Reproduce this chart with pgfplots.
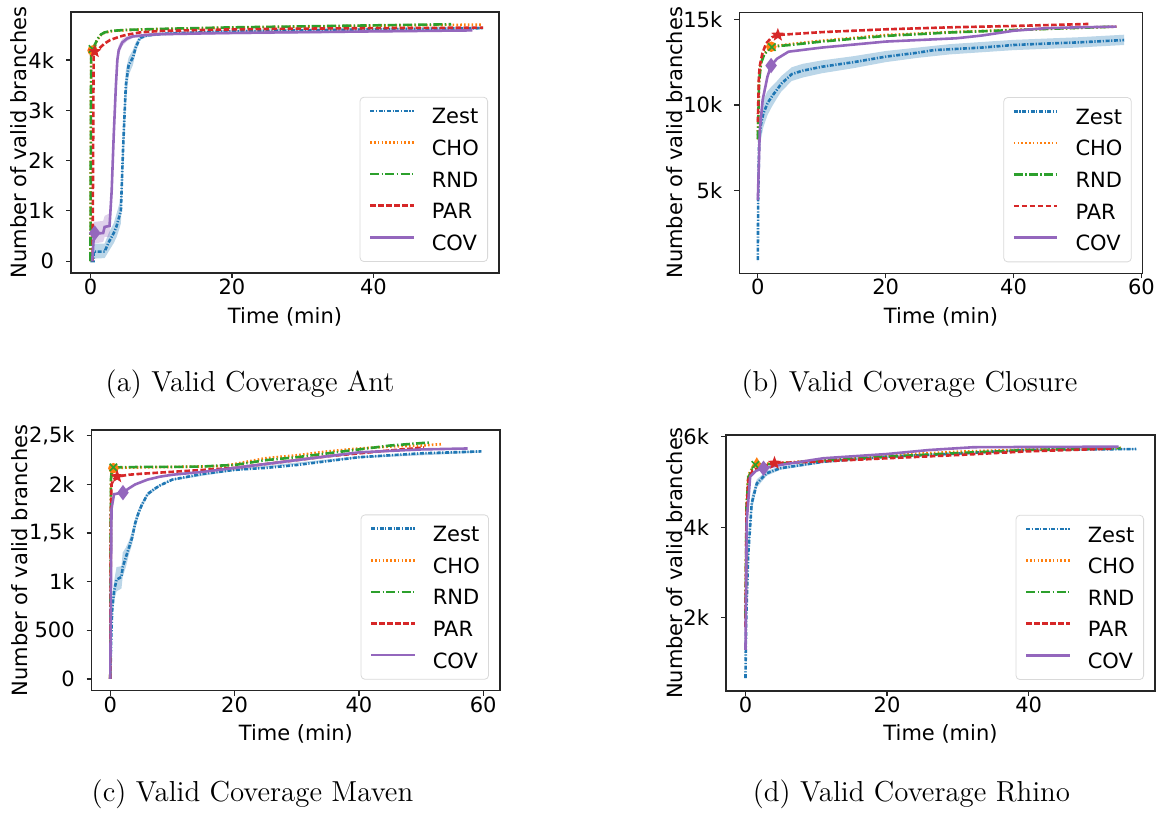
\documentclass[border=0pt]{standalone}
\usepackage{fontspec}
\usepackage{pgfplots}
\pgfplotsset{compat=1.18}
\usepgfplotslibrary{fillbetween}
\newfontfamily\djv{DejaVu Sans}
\newcommand\tfont{\djv\fontsize{10.5bp}{12bp}\selectfont}

\definecolor{tblue}{HTML}{1F77B4}
\definecolor{torange}{HTML}{FF7F0E}
\definecolor{tgreen}{HTML}{2CA02C}
\definecolor{tred}{HTML}{D62728}
\definecolor{tpurple}{HTML}{9467BD}

% filled five-point star
\pgfdeclareplotmark{fstar}{%
  \pgfpathmoveto{\pgfpointpolar{90}{\pgfplotmarksize}}%
  \pgfpathlineto{\pgfpointpolar{126}{0.42\pgfplotmarksize}}%
  \pgfpathlineto{\pgfpointpolar{162}{\pgfplotmarksize}}%
  \pgfpathlineto{\pgfpointpolar{198}{0.42\pgfplotmarksize}}%
  \pgfpathlineto{\pgfpointpolar{234}{\pgfplotmarksize}}%
  \pgfpathlineto{\pgfpointpolar{270}{0.42\pgfplotmarksize}}%
  \pgfpathlineto{\pgfpointpolar{306}{\pgfplotmarksize}}%
  \pgfpathlineto{\pgfpointpolar{342}{0.42\pgfplotmarksize}}%
  \pgfpathlineto{\pgfpointpolar{18}{\pgfplotmarksize}}%
  \pgfpathlineto{\pgfpointpolar{54}{0.42\pgfplotmarksize}}%
  \pgfpathclose\pgfusepathqfillstroke}

\pgfplotsset{
  panel/.style={
    scale only axis, anchor=south west,
    axis line style={black!85, line width=0.6bp},
    tick style={black!85, line width=0.6bp},
    tick align=outside, major tick length=2.5bp,
    xtick pos=left, ytick pos=left,
    scaled y ticks=false, scaled x ticks=false,
    every tick label/.append style={font=\tfont},
    xticklabel style={yshift=3bp},
    yticklabel style={xshift=-2.5bp},
    label style={font=\tfont},
    xlabel={Time (min)}, ylabel={Number of valid branches},
    xlabel style={anchor=base},
    ylabel style={anchor=center},
    legend style={at={(1,0)}, anchor=south east, xshift=-5.5bp, yshift=5.5bp,
      draw=black!15, rounded corners=2bp, fill=white, font=\tfont,
      inner xsep=4.4bp, inner ysep=5.6bp, row sep=8bp,
      nodes={inner sep=0pt, text height=7.8bp, text depth=0bp},
      /tikz/every odd column/.append style={column sep=8.5bp}},
    legend cell align=left,
    legend image code/.code={\draw[##1] (0bp,2.6bp) -- (21.7bp,2.6bp);},
  },
  zest/.style={tblue, line width=1.3bp, dash pattern=on 2bp off 0.8bp on 0.6bp off 0.8bp},
  cho/.style={torange, line width=1.3bp, dash pattern=on 0.8bp off 1.1bp},
  rnd/.style={tgreen, line width=1.3bp, dash pattern=on 4.5bp off 1.2bp on 0.7bp off 1.2bp},
  par/.style={tred, line width=1.3bp, dash pattern=on 2.8bp off 1.2bp},
  cov/.style={tpurple, line width=1.3bp},
  mk/.style={only marks, forget plot, mark options={solid, line width=0.8bp}},
}

\begin{document}
\begin{tikzpicture}

% ---------------- (a) Ant
\begin{axis}[panel, at={(35.5bp,273.5bp)}, width=214bp, height=130.5bp,
  xmin=-2.75, xmax=57.75, ymin=-236, ymax=4956,
  xtick={0,20,40}, xticklabels={0,20,40},
  ytick={0,1000,2000,3000,4000}, yticklabels={0,1k,2k,3k,4k},
  xlabel style={at={(axis description cs:0.5,-0.1916)}},
  ylabel style={at={(axis description cs:-0.1215,0.5)}}]
\addplot[name path=aZu, draw=none, forget plot] coordinates {(0,0) (0.45,0) (0.45,350) (2.0,350) (2.6,560) (3.3,760) (3.7,950) (4.1,1150) (4.3,1250) (4.6,2700) (5.0,3800) (5.4,4050) (6.0,4200) (6.4,4350) (7,4480) (8,4520) (10,4550) (20,4600) (40,4640) (55.5,4665)};
\addplot[name path=aZl, draw=none, forget plot] coordinates {(0,0) (0.45,0) (0.5,50) (2.0,60) (2.6,200) (3.3,360) (3.7,480) (4.1,650) (4.3,750) (4.6,1700) (5.0,3100) (5.4,3700) (6.0,3900) (6.4,4150) (7,4400) (8,4460) (10,4490) (20,4540) (40,4590) (55.5,4605)};
\addplot[tblue, fill opacity=0.3, draw=none, forget plot] fill between[of=aZu and aZl];
\addplot[name path=aCu, draw=none, forget plot] coordinates {(0.25,0) (0.5,780) (1.8,800) (2.0,900) (2.7,950) (3.0,1700) (3.3,2800) (3.6,3700) (3.8,4150) (4.0,4300) (4.5,4420) (5.2,4480) (6,4500) (10,4540) (54,4610)};
\addplot[name path=aCl, draw=none, forget plot] coordinates {(0.25,0) (0.5,350) (1.8,380) (2.0,480) (2.7,480) (3.0,1100) (3.3,2300) (3.6,3300) (3.8,3850) (4.0,4100) (4.5,4280) (5.2,4380) (6,4440) (10,4490) (54,4570)};
\addplot[tpurple, fill opacity=0.3, draw=none, forget plot] fill between[of=aCu and aCl];
\addplot[zest] coordinates {(0,0) (0.45,0) (0.45,190) (2.0,190) (2.6,380) (3.3,560) (3.7,700) (4.1,900) (4.3,1000) (4.6,2200) (5.0,3500) (5.4,3900) (6.0,4050) (6.4,4250) (7.0,4440) (8,4490) (10,4520) (15,4550) (20,4570) (30,4590) (40,4610) (50,4625) (55.5,4635)};
\addplot[cho] coordinates {(0,0) (0.1,4150) (0.3,4190) (0.6,4290) (1,4410) (1.5,4500) (2,4545) (3,4575) (5,4595) (10,4615) (20,4645) (30,4665) (40,4685) (55.3,4705)};
\addplot[rnd] coordinates {(0,0) (0.1,4150) (0.3,4200) (0.6,4300) (1,4420) (1.5,4510) (2,4550) (3,4580) (5,4600) (10,4620) (20,4650) (30,4670) (40,4690) (51,4712)};
\addplot[par] coordinates {(0.3,0) (0.45,4150) (1,4200) (2,4330) (2.8,4400) (4,4460) (5,4500) (7,4550) (10,4580) (20,4610) (30,4625) (40,4635) (55.5,4645)};
\addplot[cov] coordinates {(0.25,0) (0.5,540) (1.8,560) (2.0,680) (2.7,700) (3.0,1400) (3.3,2540) (3.6,3500) (3.8,4000) (4.0,4200) (4.5,4350) (5.2,4430) (6,4470) (8,4500) (10,4515) (20,4540) (30,4555) (40,4570) (54,4590)};
\addplot[mk, torange, mark=*, mark size=2.2bp] coordinates {(0.3,4190)};
\addplot[mk, tgreen, mark=x, mark size=2.6bp] coordinates {(0.3,4220)};
\addplot[mk, tred, mark=fstar, mark size=2.4bp] coordinates {(0.6,4170)};
\addplot[mk, tpurple, mark=diamond*, mark size=3.2bp] coordinates {(0.6,560)};
\legend{Zest,CHO,RND,PAR,COV}
\end{axis}

% ---------------- (b) Closure
\begin{axis}[panel, at={(369.65bp,273.35bp)}, width=201.7bp, height=130.5bp,
  xmin=-2.9, xmax=60.2, ymin=181, ymax=15408,
  xtick={0,20,40,60}, xticklabels={0,20,40,60},
  ytick={5000,10000,15000}, yticklabels={5k,10k,15k},
  xlabel style={at={(axis description cs:0.5,-0.1916)}},
  ylabel style={at={(axis description cs:-0.1611,0.5)}}]
\addplot[name path=bZu, draw=none, forget plot] coordinates {(0,1100) (0.05,5200) (0.2,8900) (0.5,9800) (0.86,10300) (1.5,10800) (2.2,11100) (3,11400) (3.7,11700) (5.3,12200) (7,12400) (10,12600) (15,12850) (20,13150) (25,13350) (30,13550) (40,13800) (50,13950) (57.3,14100)};
\addplot[name path=bZl, draw=none, forget plot] coordinates {(0,800) (0.05,3600) (0.2,7000) (0.5,8000) (0.86,8700) (1.5,9400) (2.2,9900) (3,10400) (3.7,10800) (5.3,11400) (7,11600) (10,11850) (15,12150) (20,12500) (25,12750) (30,12950) (40,13200) (50,13350) (57.3,13500)};
\addplot[tblue, fill opacity=0.3, draw=none, forget plot] fill between[of=bZu and bZl];
\addplot[zest] coordinates {(0,950) (0.05,4400) (0.2,7950) (0.5,8900) (0.86,9500) (1.5,10100) (2.2,10500) (3,10900) (3.7,11250) (5.3,11800) (7,12000) (10,12230) (15,12500) (20,12820) (25,13050) (27.5,13200) (30,13250) (35,13350) (40,13500) (45,13580) (50,13650) (57.3,13790)};
\addplot[cho] coordinates {(0,8000) (0.2,11500) (0.5,12500) (1,13000) (2.1,13400) (5,13550) (10,13750) (20,14080) (30,14250) (40,14380) (50,14500) (56.1,14570)};
\addplot[rnd] coordinates {(0,8000) (0.2,11400) (0.5,12450) (1,12950) (2.1,13400) (5,13500) (10,13700) (20,14030) (30,14230) (40,14370) (50,14500) (55,14560)};
\addplot[par] coordinates {(0,9000) (0.15,11500) (0.28,12235) (0.7,13000) (1.3,13600) (2.2,13950) (3.13,14080) (5,14130) (10,14250) (20,14415) (30,14530) (40,14610) (51.7,14726)};
\addplot[cov] coordinates {(0,4450) (0.3,8500) (0.75,10290) (1.5,11650) (2.07,12300) (3,12700) (4.8,13110) (10,13350) (20,13700) (31,13890) (35,14050) (40,14330) (45,14480) (50,14530) (56.1,14570)};
\addplot[mk, torange, mark=*, mark size=2.2bp] coordinates {(2.1,13400)};
\addplot[mk, tgreen, mark=x, mark size=2.6bp] coordinates {(2.2,13380)};
\addplot[mk, tred, mark=fstar, mark size=2.4bp] coordinates {(3.13,14083)};
\addplot[mk, tpurple, mark=diamond*, mark size=3.2bp] coordinates {(2.07,12300)};
\legend{Zest,CHO,RND,PAR,COV}
\end{axis}

% ---------------- (c) Maven
\begin{axis}[panel, at={(45.85bp,64.65bp)}, width=204.15bp, height=130.35bp,
  xmin=-2.99, xmax=62.7, ymin=-121, ymax=2560,
  xtick={0,20,40,60}, xticklabels={0,20,40,60},
  ytick={0,500,1000,1500,2000,2500}, yticklabels={0,500,1k,{1,5k},2k,{2,5k}},
  xlabel style={at={(axis description cs:0.5,-0.1918)}},
  ylabel style={at={(axis description cs:-0.1756,0.5)}}]
\addplot[name path=cZu, draw=none, forget plot] coordinates {(0,0) (0.15,480) (0.3,800) (0.6,1000) (1,1150) (1.8,1160) (2,1300) (2.5,1350) (3,1420) (3.5,1520) (4,1650) (4.5,1740) (5,1810) (6,1920) (8,2000) (10,2060) (20,2160) (40,2290) (59.7,2352)};
\addplot[name path=cZl, draw=none, forget plot] coordinates {(0,0) (0.15,320) (0.3,600) (0.6,800) (1,900) (1.8,930) (2,1050) (2.5,1150) (3,1280) (3.5,1380) (4,1540) (4.5,1660) (5,1750) (6,1880) (8,1980) (10,2040) (20,2140) (40,2270) (59.7,2328)};
\addplot[tblue, fill opacity=0.3, draw=none, forget plot] fill between[of=cZu and cZl];
\addplot[zest] coordinates {(0,0) (0.15,400) (0.3,700) (0.6,900) (1,1020) (1.8,1050) (2,1150) (2.5,1250) (3,1350) (3.5,1450) (4,1600) (4.5,1700) (5,1780) (6,1900) (7,1950) (8,1990) (10,2050) (15,2110) (20,2150) (25,2170) (30,2200) (35,2240) (40,2280) (45,2300) (50,2320) (55,2330) (59.7,2340)};
\addplot[cho] coordinates {(0,0) (0.1,2000) (0.3,2170) (5,2175) (10,2180) (15,2185) (18,2190) (20,2210) (25,2270) (30,2300) (35,2340) (40,2370) (45,2390) (50,2400) (53.5,2415)};
\addplot[rnd] coordinates {(0,0) (0.1,2050) (0.3,2175) (5,2180) (10,2180) (15,2185) (18,2195) (20,2200) (25,2250) (30,2280) (35,2320) (40,2360) (45,2400) (51.4,2432)};
\addplot[par] coordinates {(0,0) (0.1,1700) (0.2,2000) (0.5,2050) (1.1,2081) (3,2100) (5,2110) (10,2130) (15,2150) (20,2170) (25,2210) (30,2250) (35,2290) (40,2320) (45,2350) (50.5,2380)};
\addplot[cov] coordinates {(0,0) (0.2,1750) (0.6,1900) (2.04,1916) (3,1960) (4,2000) (6,2050) (8,2080) (10,2100) (15,2130) (20,2170) (30,2250) (40,2330) (50,2360) (57.5,2370)};
\addplot[mk, torange, mark=*, mark size=2.2bp] coordinates {(0.5,2167)};
\addplot[mk, tgreen, mark=x, mark size=2.6bp] coordinates {(0.5,2175)};
\addplot[mk, tred, mark=fstar, mark size=2.4bp] coordinates {(1.1,2081)};
\addplot[mk, tpurple, mark=diamond*, mark size=3.2bp] coordinates {(2.04,1916)};
\legend{Zest,CHO,RND,PAR,COV}
\end{axis}

% ---------------- (d) Rhino
\begin{axis}[panel, at={(363bp,64.5bp)}, width=214.5bp, height=128bp,
  xmin=-2.75, xmax=57.85, ymin=384, ymax=6040,
  xtick={0,20,40}, xticklabels={0,20,40},
  ytick={2000,4000,6000}, yticklabels={2k,4k,6k},
  xlabel style={at={(axis description cs:0.5,-0.195)}},
  ylabel style={at={(axis description cs:-0.1198,0.5)}}]
\addplot[name path=dZu, draw=none, forget plot] coordinates {(0,700) (0.1,2100) (0.4,3650) (0.88,4700) (1.6,5060) (3,5250) (4.9,5340) (11,5480) (20,5590) (30,5660) (40,5730) (55.2,5750)};
\addplot[name path=dZl, draw=none, forget plot] coordinates {(0,640) (0.1,1800) (0.4,3200) (0.88,4350) (1.6,4880) (3,5140) (4.9,5270) (11,5420) (20,5530) (30,5600) (40,5690) (55.2,5710)};
\addplot[tblue, fill opacity=0.3, draw=none, forget plot] fill between[of=dZu and dZl];
\addplot[zest] coordinates {(0,670) (0.1,1957) (0.4,3430) (0.88,4530) (1.6,4970) (3,5195) (4.9,5305) (11,5450) (20,5560) (30,5630) (40,5710) (55.2,5730)};
\addplot[cho] coordinates {(0,2000) (0.15,4500) (0.4,5150) (1,5320) (1.6,5400) (5,5420) (10,5480) (20,5597) (30,5670) (40,5722) (53,5760)};
\addplot[rnd] coordinates {(0,2000) (0.15,4450) (0.4,5100) (1,5300) (1.4,5380) (5,5410) (10,5470) (20,5560) (30,5640) (40,5710) (53,5750)};
\addplot[par] coordinates {(0,1800) (0.15,4300) (0.4,5050) (1,5250) (2,5330) (4.1,5420) (10,5450) (20,5526) (30,5597) (40,5680) (52,5740)};
\addplot[cov] coordinates {(0,1295) (0.19,4164) (0.66,5120) (1.5,5250) (2.55,5305) (5,5380) (11,5526) (20,5620) (26,5709) (32.2,5770) (40,5775) (52.7,5782)};
\addplot[mk, torange, mark=triangle*, mark size=2.6bp] coordinates {(1.6,5400)};
\addplot[mk, tgreen, mark=x, mark size=2.6bp] coordinates {(1.4,5380)};
\addplot[mk, tred, mark=fstar, mark size=2.4bp] coordinates {(4.1,5420)};
\addplot[mk, tpurple, mark=diamond*, mark size=3.2bp] coordinates {(2.55,5305)};
\legend{Zest,CHO,RND,PAR,COV}
\end{axis}

% captions
\begin{scope}[every node/.style={anchor=base, font=\fontsize{14.45bp}{17bp}\selectfont}]
\node at (125bp,214.2bp) {(a) Valid Coverage Ant};
\node at (454.75bp,214.2bp) {(b) Valid Coverage Closure};
\node at (126.25bp,9.2bp) {(c) Valid Coverage Maven};
\node at (455.75bp,9.2bp) {(d) Valid Coverage Rhino};
\end{scope}
\pgfresetboundingbox
\useasboundingbox (0,0) rectangle (582.5bp,410bp);
\end{tikzpicture}
\end{document}
